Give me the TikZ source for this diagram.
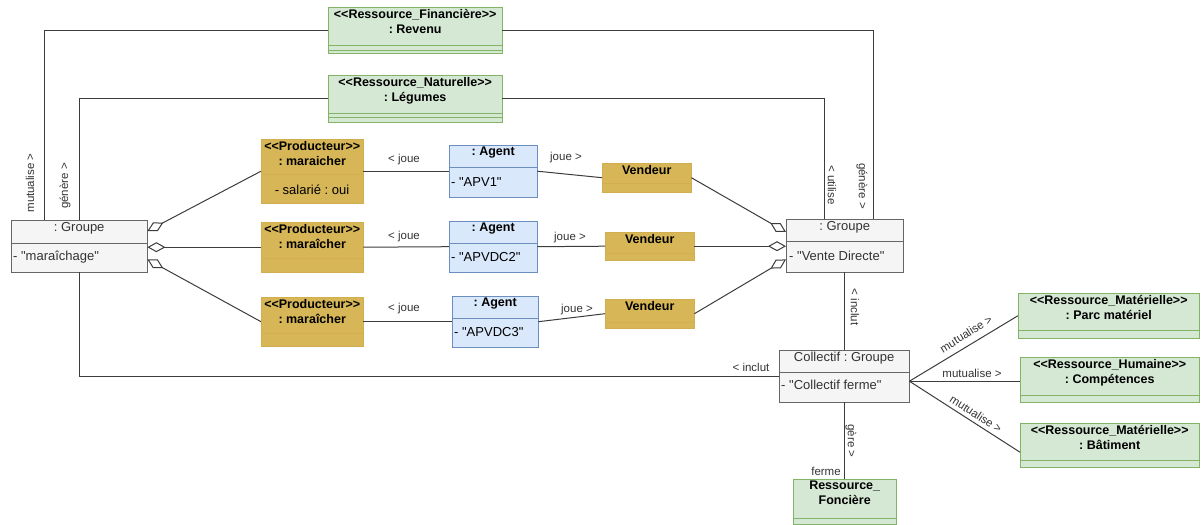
\documentclass[tikz,border=0pt]{standalone}
\usepackage{fontspec}
\setmainfont{Liberation Sans}[Ligatures=TeXOff]
\frenchspacing
\usetikzlibrary{arrows.meta}
\definecolor{grnfill}{HTML}{D5E8D4}
\definecolor{grnline}{HTML}{82B366}
\definecolor{blufill}{HTML}{DAE8FC}
\definecolor{bluline}{HTML}{6C8EBF}
\definecolor{golfill}{HTML}{D6B656}
\definecolor{golline}{HTML}{D2AE4E}
\definecolor{gryfill}{HTML}{F5F5F5}
\definecolor{gryline}{HTML}{666666}
\definecolor{txtgray}{HTML}{333333}
\definecolor{edgec}{HTML}{3C3C3C}
\tikzset{
  gbox/.style={draw=grnline, fill=grnfill},
  bbox/.style={draw=bluline, fill=blufill},
  ybox/.style={draw=golline, fill=golfill},
  wbox/.style={draw=gryline, fill=gryfill},
  ttl/.style={font=\fontsize{12.5}{15}\selectfont\bfseries, align=center, inner sep=1pt},
  ttlw/.style={font=\fontsize{13}{15}\selectfont, text=txtgray, align=center, inner sep=1pt},
  attr/.style={font=\fontsize{13}{15}\selectfont, inner sep=0pt, anchor=west},
  lbl/.style={font=\fontsize{11.5}{13}\selectfont, text=txtgray, inner sep=1pt},
  edge/.style={draw=edgec, line width=1pt},
  agg/.style={edge, -{Diamond[fill=white, length=18pt, width=10pt]}},
}
% box: name, style, top left, width, height, separators, title style
\newcommand{\umlobj}[7]{%
  \node[#2, minimum width=#4pt, minimum height=#5pt, inner sep=0pt, anchor=north west] (#1) at (#3) {};
  \foreach \sy in {#6}
    \draw[#2, fill=none] ([yshift=-\sy pt]#1.north west) -- ([yshift=-\sy pt]#1.north east);
  \node[anchor=north, #7] (#1-t) at ([yshift=-1pt]#1.north)}
\begin{document}
\begin{tikzpicture}[x=1pt, y=-1pt]
\useasboundingbox (0,0) rectangle (1203,525);
\umlobj{rev}{gbox}{328,7}{174}{46}{38,43}{ttl} {<<Ressource\_Financière>>\\: Revenu};
\umlobj{leg}{gbox}{328,75}{174}{47}{38,42}{ttl} {<<Ressource\_Naturelle>>\\: Légumes};
\umlobj{grp1}{wbox}{11,220}{136}{52}{23}{ttlw} {: Groupe};
\umlobj{grp2}{wbox}{786,219}{117}{53}{22}{ttlw} {: Groupe};
\umlobj{prod1}{ybox}{261,139}{102}{64}{35}{ttl} {<<Producteur>>\\: maraicher};
\umlobj{prod2}{ybox}{261,222}{102}{50}{36}{ttl} {<<Producteur>>\\: maraîcher};
\umlobj{prod3}{ybox}{261,297}{102}{49}{36}{ttl} {<<Producteur>>\\: maraîcher};
\umlobj{ag1}{bbox}{449,145}{88}{52}{22}{ttl} {: Agent};
\umlobj{ag2}{bbox}{449,221}{88}{51}{22}{ttl} {: Agent};
\umlobj{ag3}{bbox}{452,296}{86}{51}{22}{ttl} {: Agent};
\umlobj{vend1}{ybox}{602,163}{89}{29}{20}{ttl} {Vendeur};
\umlobj{vend2}{ybox}{605,232}{89}{28}{21}{ttl} {Vendeur};
\umlobj{vend3}{ybox}{605,299}{89}{29}{23}{ttl} {Vendeur};
\umlobj{col}{wbox}{779,350}{130}{52}{22}{ttlw} {Collectif : Groupe};
\umlobj{fon}{gbox}{793,479}{103}{45}{39}{ttl} {Ressource\_\\Foncière};
\umlobj{parc}{gbox}{1018,293}{181}{45}{37}{ttl} {<<Ressource\_Matérielle>>\\: Parc matériel};
\umlobj{comp}{gbox}{1020,357}{179}{45}{38}{ttl} {<<Ressource\_Humaine>>\\: Compétences};
\umlobj{bat}{gbox}{1020,423}{179}{44}{37}{ttl} {<<Ressource\_Matérielle>>\\: Bâtiment};

\node[attr, text=txtgray] (grp1-a) at (13,257) {- "maraîchage"};
\node[attr, text=txtgray] (grp2-a) at (789,256) {- "Vente Directe"};
\node[attr, text=txtgray] (col-a) at (781,385) {- "Collectif ferme"};
\node[attr] (ag1-a) at (451,182) {- "APV1"};
\node[attr] (ag2-a) at (451,257) {- "APVDC2"};
\node[attr] (ag3-a) at (454,332) {- "APVDC3"};
\node[attr, anchor=center] (prod1-a) at (312,190) {- salarié : oui};

\draw[edge] (rev.west) -| ([xshift=33pt]grp1.north west);
\draw[edge] (leg.west) -| ([xshift=68pt]grp1.north west);
\draw[edge] (rev.east) -| ([xshift=87pt]grp2.north west);
\draw[edge] (leg.east) -| ([xshift=38pt]grp2.north west);
\draw[edge] ([xshift=68pt]grp1.south west) |- (col.west);
\draw[edge] (col.north |- grp2.south) -- (col.north);
\draw[edge] (col.south) -- (col.south |- fon.north);

\draw[agg] (prod1.west) -- ([yshift=-11pt]grp1.north east);
\draw[agg] (prod2.west) -- (prod2.west -| grp1.east);
\draw[agg] (prod3.west) -- ([yshift=13pt]grp1.south east);
\draw[agg] (vend1.east) -- ([yshift=-13pt]grp2.north west);
\draw[agg] (vend2.east) -- (vend2.east -| grp2.west);
\draw[agg] (vend3.east) -- ([yshift=13pt]grp2.south west);

\draw[edge] (prod1.east) -- (ag1.west);
\draw[edge] (prod2.east) -- (ag2.west);
\draw[edge] (prod3.east) -- (ag3.west);
\draw[edge] (ag1.east) -- (vend1.west);
\draw[edge] (ag2.east) -- (vend2.west);
\draw[edge] (ag3.east) -- (vend3.west);

\coordinate (colr) at ([yshift=-5pt]col.east);
\draw[edge] (colr) -- (parc.west);
\draw[edge] (colr) -- (colr -| comp.west);
\draw[edge] (colr) -- ([yshift=-7pt]bat.west);

\node[lbl, rotate=90] (l-mut) at (30,183) {mutualise >};
\node[lbl, rotate=90] (l-gen1) at (65,186) {génère >};
\node[lbl, rotate=-90] (l-uti) at (832,185) {< utilise};
\node[lbl, rotate=-90] (l-gen2) at (862,186) {génère >};
\node[lbl, rotate=-90] (l-inc1) at (855,307) {< inclut};
\node[lbl] (l-inc2) at (751,367) {< inclut};
\node[lbl, rotate=-90] (l-ger) at (851,441) {gère >};
\node[lbl] (l-fer) at (826,471) {ferme};
\node[lbl] (l-j1) at (404,160) {< joue};
\node[lbl] (l-j2) at (404,237) {< joue};
\node[lbl] (l-j3) at (404,309) {< joue};
\node[lbl] (l-v1) at (566,158) {joue >};
\node[lbl] (l-v2) at (570,238) {joue >};
\node[lbl] (l-v3) at (577,310) {joue >};
\node[lbl, rotate=32] (l-m1) at (966,334) {mutualise >};
\node[lbl] (l-m2) at (972,373) {mutualise >};
\node[lbl, rotate=-33] (l-m3) at (976,414) {mutualise >};
\end{tikzpicture}
\end{document}
